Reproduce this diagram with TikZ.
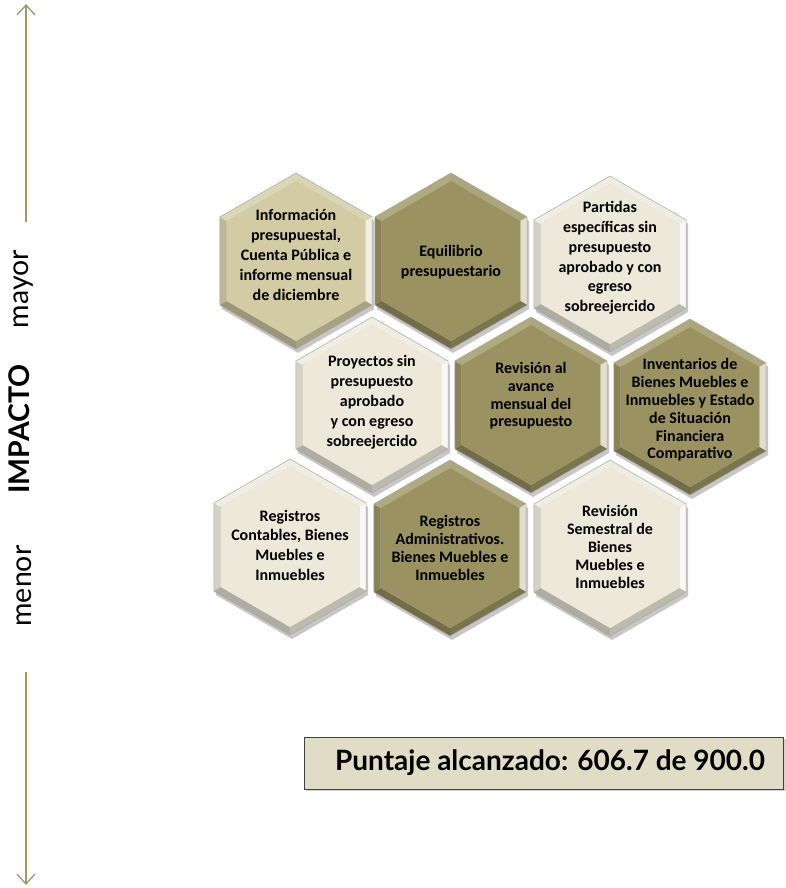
\documentclass[tikz,border=0pt]{standalone}
\usepackage{fontspec}
\setmainfont{Carlito}
\newfontfamily\lato{Lato}
\usetikzlibrary{arrows.meta,shadows}
\definecolor{olivec}{HTML}{9A9260}
\definecolor{tanc}{HTML}{D2CBA4}
\definecolor{creamc}{HTML}{ECE9DA}
\definecolor{boxc}{HTML}{E0DCC6}
\definecolor{axisc}{HTML}{A09868}
% name/x/y/colour of every cell
\newcommand\hexlist{info/296/261/tanc, equi/451/261/olivec, part/610/264/creamc,
  proy/372/405/creamc, aven/531/405/olivec, inve/690/407/olivec,
  regc/290/547/creamc, rega/450/548/olivec, seme/610/548/creamc}

\begin{document}
\begin{tikzpicture}[x=1pt, y=-1pt,
  hextxt/.style={align=center, inner sep=0pt, font=\fontsize{16}{20}\selectfont\bfseries},
  side/.style={rotate=90, inner sep=0pt, font=\lato\fontsize{28.5}{30}\selectfont},
  axis/.style={draw=axisc, line width=1.3pt, -{Straight Barb[length=10pt, width=18pt, line width=1.3pt]}},
  score/.style={draw=black!75, line width=.8pt, fill=boxc, minimum width=479pt, minimum height=52pt,
    font=\lato\bfseries\fontsize{28}{30}\selectfont, drop shadow={shadow xshift=2pt, shadow yshift=-2pt, opacity=.35}}]
\useasboundingbox (0,0) rectangle (785,888);
% shadows first
\foreach \nm/\cx/\cy/\col in \hexlist {
  \coordinate (h-\nm) at (\cx,\cy);
  \fill[black, opacity=.22] (\cx+2,\cy+4) +(-90:88) -- +(-30:88) -- +(30:88) -- +(90:88) -- +(150:88) -- +(210:88) -- cycle;
}
% bevelled cells
\foreach \nm/\cx/\cy/\col in \hexlist {
  \begin{scope}[shift={(\cx,\cy)}]
    \foreach \a/\tint in {-90/{\col!82!white}, -30/{\col!30!white}, 30/{\col!80!black},
                          90/{\col!74!black}, 150/{\col!90!black}, 210/{\col!78!white}}
      \fill[\tint] (\a:88) -- (\a+60:88) -- (\a+60:80) -- (\a:80) -- cycle;
    \fill[\col] (-90:80) -- (-30:80) -- (30:80) -- (90:80) -- (150:80) -- (210:80) -- cycle;
    \draw[black!35, line width=.5pt] (-90:88) -- (-30:88) -- (30:88) -- (90:88) -- (150:88) -- (210:88) -- cycle;
  \end{scope}
}
\node[hextxt] (t-info) at (296,255) {Información\\presupuestal,\\Cuenta Pública e\\informe mensual\\de diciembre};
\node[hextxt] (t-equi) at (451,262) {Equilibrio\\presupuestario};
\node[hextxt, font=\fontsize{16}{19.8}\selectfont\bfseries] (t-part) at (610,258) {Partidas\\específicas sin\\presupuesto\\aprobado  y con\\egreso\\sobreejercido};
\node[hextxt] (t-proy) at (372,402) {Proyectos sin\\presupuesto\\aprobado\\y con egreso\\sobreejercido};
\node[hextxt, font=\fontsize{16}{17.7}\selectfont\bfseries] (t-aven) at (531,396) {Revisión al\\avance\\mensual del\\presupuesto};
\node[hextxt, font=\fontsize{16}{17.8}\selectfont\bfseries] (t-inve) at (690,410) {Inventarios  de\\Bienes Muebles e\\Inmuebles y Estado\\de Situación\\Financiera\\Comparativo};
\node[hextxt, font=\fontsize{16}{19.7}\selectfont\bfseries] (t-regc) at (290,545) {Registros\\Contables, Bienes\\Muebles e\\Inmuebles};
\node[hextxt, font=\fontsize{16}{18.2}\selectfont\bfseries] (t-rega) at (450,548) {Registros\\Administrativos.\\Bienes Muebles e\\Inmuebles};
\node[hextxt, font=\fontsize{16}{18}\selectfont\bfseries] (t-seme) at (610,547) {Revisión\\Semestral  de\\Bienes\\Muebles e\\Inmuebles};
% impact axis
\node[side] (mayor) at (24,289) {mayor};
\node[side, font=\lato\bfseries\fontsize{28.5}{30}\selectfont] (impacto) at (19,429) {IMPACTO};
\node[side] (menor) at (24,586) {menor};
\coordinate (ax-top) at (26,4);
\coordinate (ax-a) at (26,222);
\coordinate (ax-b) at (26,672);
\coordinate (ax-bot) at (26,885);
\draw[axis] (ax-a) -- (ax-top);
\draw[axis] (ax-b) -- (ax-bot);
\node[score] (score) at (544,763) {\hspace*{12pt}Puntaje alcanzado: 606.7 de 900.0};
\end{tikzpicture}
\end{document}
